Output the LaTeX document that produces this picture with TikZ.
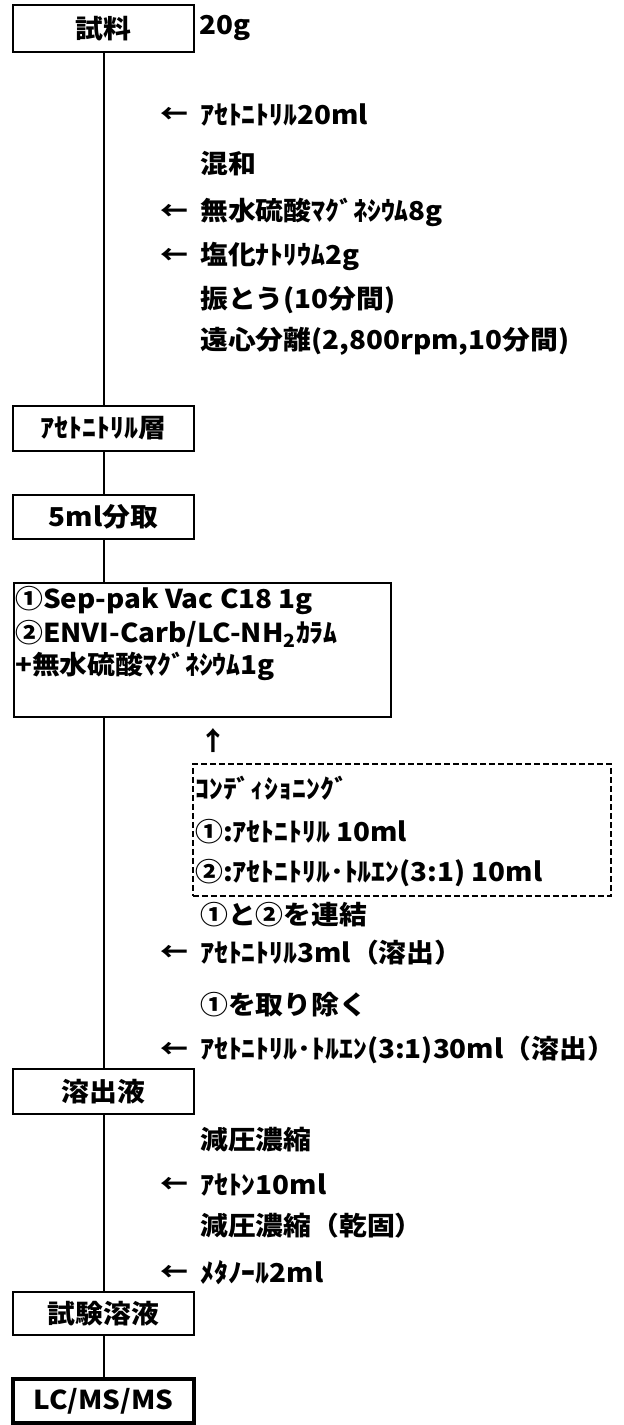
\documentclass[tikz,border=0pt]{standalone}
\usepackage{fontspec}
\newfontfamily\jp[FakeStretch=1.07]{Noto Sans CJK JP}
\begin{document}
\begin{tikzpicture}[x=1pt,y=-1pt,
  font=\jp\bfseries\fontsize{26}{30}\selectfont,
  box/.style={draw, line width=2pt, minimum width=181pt, minimum height=45pt, inner sep=0pt},
  txt/.style={anchor=west, inner sep=0pt},
  flow/.style={line width=2pt}]
\useasboundingbox (0,0) rectangle (624,1425);
% main boxes
\node[box, minimum height=47pt] (sample) at (103.5,28.5) {試料};
\node[box] (aclayer) at (103.5,428.5) {ｱｾﾄﾆﾄﾘﾙ層};
\node[box, minimum height=44pt] (aliquot) at (103.5,517) {5ml分取};
\node[draw, line width=2pt, minimum width=377pt, minimum height=134pt, anchor=north west, inner sep=0pt] (column) at (13,582) {};
\node[box] (eluate) at (103.5,1091.5) {溶出液};
\node[box, minimum height=43pt] (testsol) at (103.5,1313.5) {試験溶液};
\node[box, line width=3.5pt, minimum height=44pt] (lcms) at (103.5,1401) {LC/MS/MS};
\node[draw, dashed, dash pattern=on 6pt off 3pt, line width=1.5pt, minimum width=418pt, minimum height=132pt, anchor=north west, inner sep=0pt] (cond) at (192,763) {};
% connectors
\draw[flow] (sample.south) -- (aclayer.north);
\draw[flow] (aclayer.south) -- (aliquot.north);
\draw[flow] (aliquot.south) -- (aliquot.south |- column.north);
\draw[flow] (aliquot.south |- column.south) -- (eluate.north);
\draw[flow] (eluate.south) -- (testsol.north);
\draw[flow] (testsol.south) -- (lcms.north);
% texts beside
\node[txt] (t20g) at (199,28) {20g};
\node[txt] (a1) at (160,115) {←};
\node[txt] (s1) at (200,115) {ｱｾﾄﾆﾄﾘﾙ20ml};
\node[txt] (s2) at (200,164) {混和};
\node[txt] (a3) at (160,212) {←};
\node[txt] (s3) at (200,212) {無水硫酸ﾏｸﾞﾈｼｳﾑ8g};
\node[txt] (a4) at (160,256) {←};
\node[txt] (s4) at (200,256) {塩化ﾅﾄﾘｳﾑ2g};
\node[txt] (s5) at (200,300) {振とう(10分間)};
\node[txt] (s6) at (200,341) {遠心分離(2,800rpm,10分間)};
% column box contents
\node[txt] (c1) at (15,600) {①Sep-pak Vac C18 1g};
\node[txt] (c2) at (15,634) {②ENVI-Carb/LC-NH\textsubscript{2}ｶﾗﾑ};
\node[txt] (c3) at (15,666) {+無水硫酸ﾏｸﾞﾈｼｳﾑ1g};
\node[inner sep=0pt] (up) at (213,741) {↑};
% conditioning
\node[txt] (d1) at (195,788) {ｺﾝﾃﾞｨｼｮﾆﾝｸﾞ};
\node[txt] (d2) at (195,832) {①:ｱｾﾄﾆﾄﾘﾙ 10ml};
\node[txt] (d3) at (195,873) {②:ｱｾﾄﾆﾄﾘﾙ･ﾄﾙｴﾝ(3:1) 10ml};
% later steps
\node[txt] (s7) at (200,915) {①と②を連結};
\node[txt] (a8) at (160,953) {←};
\node[txt] (s8) at (200,953) {ｱｾﾄﾆﾄﾘﾙ3ml（溶出）};
\node[txt] (s9) at (200,1005) {①を取り除く};
\node[txt] (a10) at (160,1050) {←};
\node[txt] (s10) at (200,1050) {ｱｾﾄﾆﾄﾘﾙ･ﾄﾙｴﾝ(3:1)30ml（溶出）};
\node[txt] (s11) at (200,1140) {減圧濃縮};
\node[txt] (a12) at (160,1185) {←};
\node[txt] (s12) at (200,1185) {ｱｾﾄﾝ10ml};
\node[txt] (s13) at (200,1226) {減圧濃縮（乾固）};
\node[txt] (a14) at (160,1273) {←};
\node[txt] (s14) at (200,1273) {ﾒﾀﾉｰﾙ2ml};
\end{tikzpicture}
\end{document}
